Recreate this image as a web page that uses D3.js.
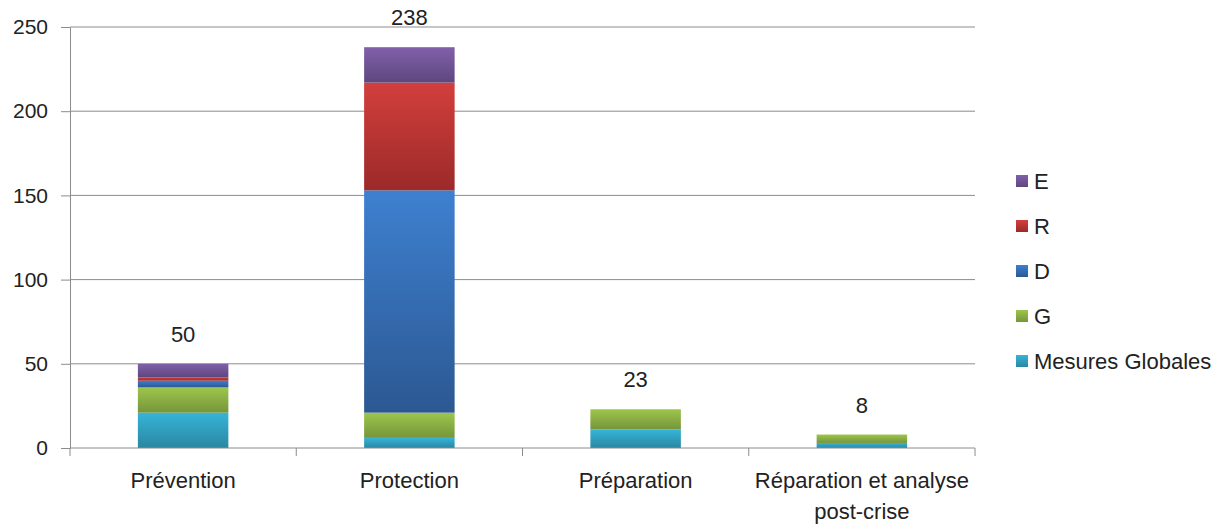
<!DOCTYPE html>
<html>
<head>
<meta charset="utf-8">
<script src="https://cdn.jsdelivr.net/npm/d3@7"></script>
<style>
body { margin: 0; background: #fff; }
svg text { font-family: "Liberation Sans", Arial, sans-serif; fill: #222; }
</style>
</head>
<body>
<svg id="chart"></svg>
<script>
// data
var categories = ["Prévention", "Protection", "Préparation", "Réparation et analyse post-crise"]
var seriesNames = ["Mesures Globales", "G", "D", "R", "E"]
var mesuresGlobales = [21, 6, 11, 3]
var gValues = [15, 15, 12, 5]
var dValues = [4, 132, 0, 0]
var rValues = [2, 64, 0, 0]
var eValues = [8, 21, 0, 0]
var totals = [50, 238, 23, 8]
var yTicks = [0, 50, 100, 150, 200, 250]

var colors = {
  "Mesures Globales": ["#36b4d8", "#2a87a1"],
  "G": ["#9dc64c", "#76953a"],
  "D": ["#3e80d0", "#2c5892"],
  "R": ["#d33f3c", "#9b2a29"],
  "E": ["#8060aa", "#5e477f"]
}

var margin = {top: 27, left: 70}
var width = 905
var height = 421

var rows = categories.map(function(c, i) {
  return {cat: c, "Mesures Globales": mesuresGlobales[i], G: gValues[i], D: dValues[i], R: rValues[i], E: eValues[i]}
})

var svg = d3.select("#chart").attr("width", 1227).attr("height", 524)

var defs = svg.append("defs")
seriesNames.forEach(function(s, i) {
  var g = defs.append("linearGradient").attr("id", "grad" + i)
    .attr("x1", 0).attr("y1", 0).attr("x2", 0).attr("y2", 1)
  g.append("stop").attr("offset", "0%").attr("stop-color", colors[s][0])
  g.append("stop").attr("offset", "100%").attr("stop-color", colors[s][1])
})

var g = svg.append("g").attr("transform", "translate(" + margin.left + "," + margin.top + ")")

var x = d3.scaleBand().domain(categories).range([0, width]).paddingInner(0.6).paddingOuter(0.3)
var xOuter = d3.scaleBand().domain(categories).range([0, width])
var y = d3.scaleLinear().domain([0, 250]).range([height, 0])

// gridlines
g.selectAll(".grid").data(yTicks.slice(1)).enter().append("line")
  .attr("x1", 0).attr("x2", width)
  .attr("y1", function(d) { return y(d) }).attr("y2", function(d) { return y(d) })
  .attr("stroke", "#8c8c8c").attr("stroke-width", 1)

// bars
var stack = d3.stack().keys(seriesNames)(rows)
g.selectAll(".series").data(stack).enter().append("g")
  .attr("fill", function(d, i) { return "url(#grad" + i + ")" })
  .selectAll("rect").data(function(d) { return d.filter(function(p) { return p[1] > p[0] }) })
  .enter().append("rect")
  .attr("x", function(d) { return x(d.data.cat) })
  .attr("width", x.bandwidth())
  .attr("y", function(d) { return y(d[1]) })
  .attr("height", function(d) { return y(d[0]) - y(d[1]) })

// y axis
var yAxis = d3.axisLeft(y).tickValues(yTicks).tickSize(9).tickPadding(13)
var ya = g.append("g").call(yAxis)
ya.select(".domain").attr("stroke", "#8c8c8c")
ya.selectAll(".tick line").attr("stroke", "#8c8c8c")
ya.selectAll("text").style("font-size", "21px").attr("fill", "#222")

// x axis
var xa = g.append("g").attr("transform", "translate(0," + height + ")")
xa.append("line").attr("x1", 0).attr("x2", width).attr("stroke", "#8c8c8c")
xa.selectAll(".xt").data(categories.concat(["end"])).enter().append("line")
  .attr("x1", function(d, i) { return i * xOuter.step() }).attr("x2", function(d, i) { return i * xOuter.step() })
  .attr("y1", 0).attr("y2", 8).attr("stroke", "#8c8c8c")

var labelLines = [["Prévention"], ["Protection"], ["Préparation"], ["Réparation et analyse", "post-crise"]]
xa.selectAll(".xl").data(categories).enter().append("text")
  .attr("text-anchor", "middle")
  .attr("x", function(d) { return x(d) + x.bandwidth() / 2 })
  .style("font-size", "22px")
  .each(function(d, i) {
    var t = d3.select(this)
    labelLines[i].forEach(function(l, j) {
      t.append("tspan").attr("x", x(d) + x.bandwidth() / 2).attr("y", 40 + j * 31).text(l)
    })
  })

// totals
g.selectAll(".tot").data(totals).enter().append("text")
  .attr("text-anchor", "middle")
  .attr("x", function(d, i) { return x(categories[i]) + x.bandwidth() / 2 })
  .attr("y", function(d) { return y(d) - 22 })
  .style("font-size", "22px")
  .text(function(d) { return d })

// legend
var legendOrder = seriesNames.slice().reverse()
var leg = svg.append("g").attr("transform", "translate(1016,181)")
var li = leg.selectAll(".li").data(legendOrder).enter().append("g")
  .attr("transform", function(d, i) { return "translate(0," + (i * 45) + ")" })
li.append("rect").attr("x", 0).attr("y", -6).attr("width", 12).attr("height", 12)
  .attr("fill", function(d) { return "url(#grad" + seriesNames.indexOf(d) + ")" })
li.append("text").attr("x", 18).attr("y", 8).style("font-size", "22px").text(function(d) { return d })
</script>
</body>
</html>
